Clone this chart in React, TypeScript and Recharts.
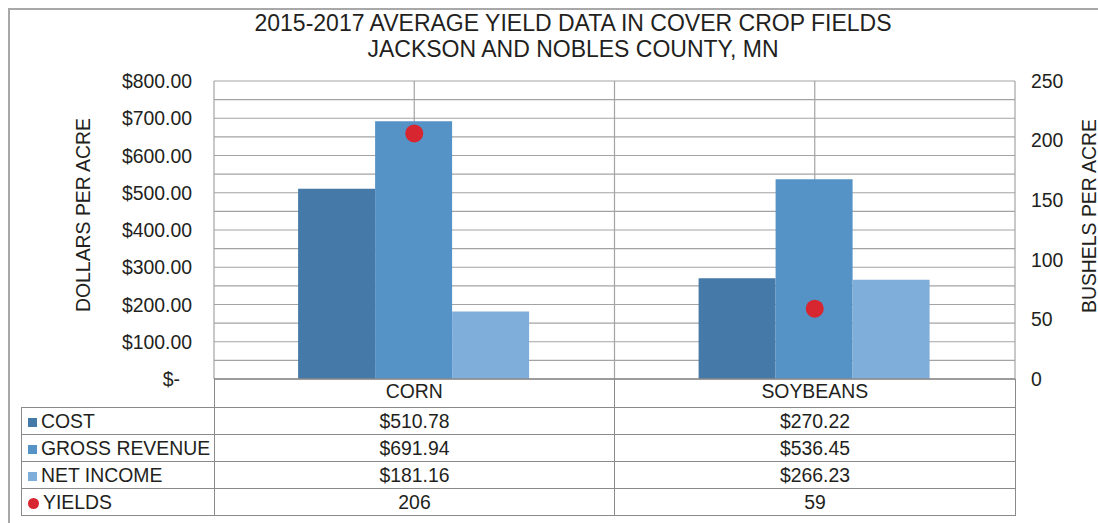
import React from 'react';
import {
  ComposedChart,
  Bar,
  Line,
  XAxis,
  YAxis,
  CartesianGrid,
} from 'recharts';

const categories = ['CORN', 'SOYBEANS'];
const cost = [510.78, 270.22];
const grossRevenue = [691.94, 536.45];
const netIncome = [181.16, 266.23];
const yields = [206, 59];
const dollarTicks = [0, 50, 100, 150, 200, 250, 300, 350, 400, 450, 500, 550, 600, 650, 700, 750, 800];
const bushelTicks = [0, 50, 100, 150, 200, 250];

const COLORS = {
  cost: '#4579A8',
  gross: '#5592C6',
  net: '#80AEDA',
  yields: '#D7262F',
};

const FONT = '"Liberation Sans", Arial, Helvetica, sans-serif';
const FS = 19.4;
const TEXT = '#231f20';
const GRID = '#a3a3a3';
const LINE = '#8a8a8a';

const chartData = categories.map((name, i) => ({
  name,
  cost: cost[i],
  gross: grossRevenue[i],
  net: netIncome[i],
  yields: yields[i],
}));

const tableRows = [
  { label: 'COST', color: COLORS.cost, dot: false, values: cost.map(v => `$${v.toFixed(2)}`) },
  { label: 'GROSS REVENUE', color: COLORS.gross, dot: false, values: grossRevenue.map(v => `$${v.toFixed(2)}`) },
  { label: 'NET INCOME', color: COLORS.net, dot: false, values: netIncome.map(v => `$${v.toFixed(2)}`) },
  { label: 'YIELDS', color: COLORS.yields, dot: true, values: yields.map(v => `${v}`) },
];

// left axis: labels only every $100, "$-" for zero is pulled in like Excel's accounting format
const DollarTick = (props: any) => {
  const { x, y, payload } = props;
  const v = payload.value;
  if (v % 100 !== 0) return null;
  const label = v === 0 ? '$-' : `$${v.toFixed(2)}`;
  return (
    <text x={v === 0 ? x - 12 : x} y={y} dy={7} textAnchor="end" fill={TEXT} fontSize={FS} fontFamily={FONT}>
      {label}
    </text>
  );
};

const YieldDot = (props: any) => {
  const { cx, cy } = props;
  if (cx == null || cy == null) return null;
  return <circle cx={cx} cy={cy} r={9} fill={COLORS.yields} />;
};

const cellBorder = `1.5px solid ${LINE}`;

export default function App() {
  return (
    <div style={{ position: 'absolute', left: 8, top: 8, width: 1090, height: 515, fontFamily: FONT, color: TEXT }}>
      <style>{'html,body{overflow:hidden;}'}</style>
      <div
        style={{
          position: 'absolute',
          left: 0,
          top: 0,
          width: 1090,
          height: 515,
          borderLeft: '2px solid #a8a8a8',
          borderTop: '2px solid #a8a8a8',
          boxSizing: 'border-box',
        }}
      />
      <div
        style={{
          position: 'absolute',
          left: 165,
          width: 800,
          top: 2,
          textAlign: 'center',
          fontSize: 23,
          lineHeight: '26px',
          whiteSpace: 'nowrap',
        }}
      >
        2015-2017 AVERAGE YIELD DATA IN COVER CROP FIELDS
        <br />
        JACKSON AND NOBLES COUNTY, MN
      </div>
      <div
        style={{
          position: 'absolute',
          left: 75 - 150,
          top: 207 - 9,
          width: 300,
          height: 18,
          lineHeight: '18px',
          textAlign: 'center',
          fontSize: FS,
          whiteSpace: 'nowrap',
          transform: 'rotate(-90deg)',
        }}
      >
        DOLLARS PER ACRE
      </div>
      <div
        style={{
          position: 'absolute',
          left: 1081 - 150,
          top: 208 - 9,
          width: 300,
          height: 18,
          lineHeight: '18px',
          textAlign: 'center',
          fontSize: FS,
          whiteSpace: 'nowrap',
          transform: 'rotate(-90deg)',
        }}
      >
        BUSHELS PER ACRE
      </div>

      <div style={{ position: 'absolute', left: 0, top: 0 }}>
        <ComposedChart
          width={1090}
          height={507}
          data={chartData}
          margin={{ top: 73, right: 0, bottom: 108, left: 0 }}
          barCategoryGap="21%"
          barGap={0}
        >
          <CartesianGrid
            yAxisId="left"
            stroke={GRID}
            strokeWidth={1.2}
            verticalCoordinatesGenerator={({ offset }: any) => [
              offset.left,
              offset.left + offset.width / 4,
              offset.left + offset.width / 2,
              offset.left + (offset.width * 3) / 4,
              offset.left + offset.width,
            ]}
          />
          <XAxis
            dataKey="name"
            height={28}
            axisLine={{ stroke: LINE, strokeWidth: 1.5 }}
            tickLine={false}
            tickSize={0}
            tickMargin={5}
            tick={{ fill: TEXT, fontSize: FS, fontFamily: FONT }}
          />
          <YAxis
            yAxisId="left"
            orientation="left"
            width={206}
            domain={[0, 800]}
            ticks={dollarTicks}
            interval={0}
            axisLine={false}
            tickLine={false}
            tickSize={0}
            tickMargin={22}
            tick={<DollarTick />}
          />
          <YAxis
            yAxisId="right"
            orientation="right"
            width={83}
            domain={[0, 250]}
            ticks={bushelTicks}
            interval={0}
            axisLine={false}
            tickLine={false}
            tickSize={0}
            tickMargin={16}
            tick={{ fill: TEXT, fontSize: FS, fontFamily: FONT }}
          />
          <Bar yAxisId="left" dataKey="cost" fill={COLORS.cost} isAnimationActive={false} />
          <Bar yAxisId="left" dataKey="gross" fill={COLORS.gross} isAnimationActive={false} />
          <Bar yAxisId="left" dataKey="net" fill={COLORS.net} isAnimationActive={false} />
          <Line
            yAxisId="right"
            dataKey="yields"
            stroke="none"
            strokeWidth={0}
            dot={<YieldDot />}
            activeDot={false}
            isAnimationActive={false}
          />
        </ComposedChart>
      </div>

      <table
        style={{
          position: 'absolute',
          left: 13,
          top: 371,
          borderCollapse: 'collapse',
          tableLayout: 'fixed',
          width: 994,
          fontSize: FS,
          fontFamily: FONT,
          color: TEXT,
        }}
      >
        <colgroup>
          <col style={{ width: 193 }} />
          <col style={{ width: 400 }} />
          <col style={{ width: 401 }} />
        </colgroup>
        <tbody>
          <tr style={{ height: 28 }}>
            <td style={{ padding: 0 }} />
            <td style={{ padding: 0, borderLeft: cellBorder, borderRight: cellBorder }} />
            <td style={{ padding: 0, borderLeft: cellBorder, borderRight: cellBorder }} />
          </tr>
          {tableRows.map(row => (
            <tr key={row.label} style={{ height: 27 }}>
              <td style={{ padding: '0 0 0 6px', border: cellBorder, whiteSpace: 'nowrap', lineHeight: '24px' }}>
                <span
                  style={{
                    display: 'inline-block',
                    width: row.dot ? 11 : 9,
                    height: row.dot ? 11 : 9,
                    borderRadius: row.dot ? '50%' : 0,
                    background: row.color,
                    marginRight: 4,
                    verticalAlign: row.dot ? '0px' : '1px',
                  }}
                />
                {row.label}
              </td>
              {row.values.map((v, i) => (
                <td key={i} style={{ padding: 0, border: cellBorder, textAlign: 'center', lineHeight: '24px' }}>
                  {v}
                </td>
              ))}
            </tr>
          ))}
        </tbody>
      </table>
    </div>
  );
}
